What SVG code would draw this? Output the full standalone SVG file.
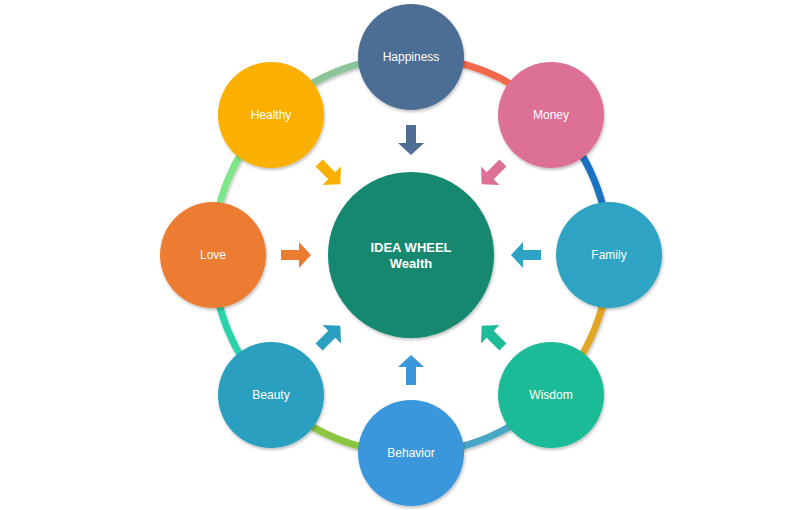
<svg xmlns="http://www.w3.org/2000/svg" width="800" height="510" viewBox="0 0 800 510">
<defs>
<filter id="sh" x="-20%" y="-20%" width="140%" height="140%">
<feGaussianBlur in="SourceAlpha" stdDeviation="1.5"/>
<feOffset dx="1" dy="2" result="b"/>
<feComponentTransfer><feFuncA type="linear" slope="0.25"/></feComponentTransfer>
<feMerge><feMergeNode/><feMergeNode in="SourceGraphic"/></feMerge>
</filter>
<path id="arw" d="M130,-5 L112,-5 L112,-13 L100,0 L112,13 L112,5 L130,5 Z"/>
</defs>
<style>
.ring{fill:none;stroke-width:7;filter:url(#sh)}
.node{filter:url(#sh)}
.lbl{font-family:"Liberation Sans",Arial,sans-serif;font-size:12px;fill:#ffffff;text-anchor:middle}
.ctr{font-family:"Liberation Sans",Arial,sans-serif;font-size:13px;font-weight:bold;fill:#ffffff;text-anchor:middle}
</style>
<rect width="800" height="510" fill="#ffffff"/>
<g id="connectors">
<path class="ring" stroke="#f2674c" d="M411,57 A198,198 0 0 1 551,115"/>
<path class="ring" stroke="#1a72c2" d="M551,115 A198,198 0 0 1 609,255"/>
<path class="ring" stroke="#e0a627" d="M609,255 A198,198 0 0 1 551,395"/>
<path class="ring" stroke="#4aa7c6" d="M551,395 A198,198 0 0 1 411,453"/>
<path class="ring" stroke="#8cc63f" d="M411,453 A198,198 0 0 1 271,395"/>
<path class="ring" stroke="#2bd3aa" d="M271,395 A198,198 0 0 1 213,255"/>
<path class="ring" stroke="#7fe68a" d="M213,255 A198,198 0 0 1 271,115"/>
<path class="ring" stroke="#8cc49a" d="M271,115 A198,198 0 0 1 411,57"/>
<g transform="translate(411,255)">
<use href="#arw" fill="#4e6e94" transform="rotate(-90)"/>
<use href="#arw" fill="#dd7096" transform="rotate(-45)"/>
<use href="#arw" fill="#2ea3c3" transform="rotate(0)"/>
<use href="#arw" fill="#1dbb98" transform="rotate(45)"/>
<use href="#arw" fill="#3a97db" transform="rotate(90)"/>
<use href="#arw" fill="#2b9fc0" transform="rotate(135)"/>
<use href="#arw" fill="#ec7c31" transform="rotate(180)"/>
<use href="#arw" fill="#fbaf00" transform="rotate(-135)"/>
</g>
</g>
<g id="center"><circle class="node" cx="411" cy="255" r="83" fill="#138870"/><text class="ctr" x="411" y="252">IDEA WHEEL</text><text class="ctr" x="411" y="268">Wealth</text></g>
<g id="happiness"><circle class="node" cx="411" cy="57" r="53" fill="#4e6e94"/><text class="lbl" x="411" y="61">Happiness</text></g>
<g id="money"><circle class="node" cx="551" cy="115" r="53" fill="#dd7096"/><text class="lbl" x="551" y="119">Money</text></g>
<g id="family"><circle class="node" cx="609" cy="255" r="53" fill="#2ea3c3"/><text class="lbl" x="609" y="259">Family</text></g>
<g id="wisdom"><circle class="node" cx="551" cy="395" r="53" fill="#1dbb98"/><text class="lbl" x="551" y="399">Wisdom</text></g>
<g id="behavior"><circle class="node" cx="411" cy="453" r="53" fill="#3a97db"/><text class="lbl" x="411" y="457">Behavior</text></g>
<g id="beauty"><circle class="node" cx="271" cy="395" r="53" fill="#2b9fc0"/><text class="lbl" x="271" y="399">Beauty</text></g>
<g id="love"><circle class="node" cx="213" cy="255" r="53" fill="#ec7c31"/><text class="lbl" x="213" y="259">Love</text></g>
<g id="healthy"><circle class="node" cx="271" cy="115" r="53" fill="#fbaf00"/><text class="lbl" x="271" y="119">Healthy</text></g>
</svg>
